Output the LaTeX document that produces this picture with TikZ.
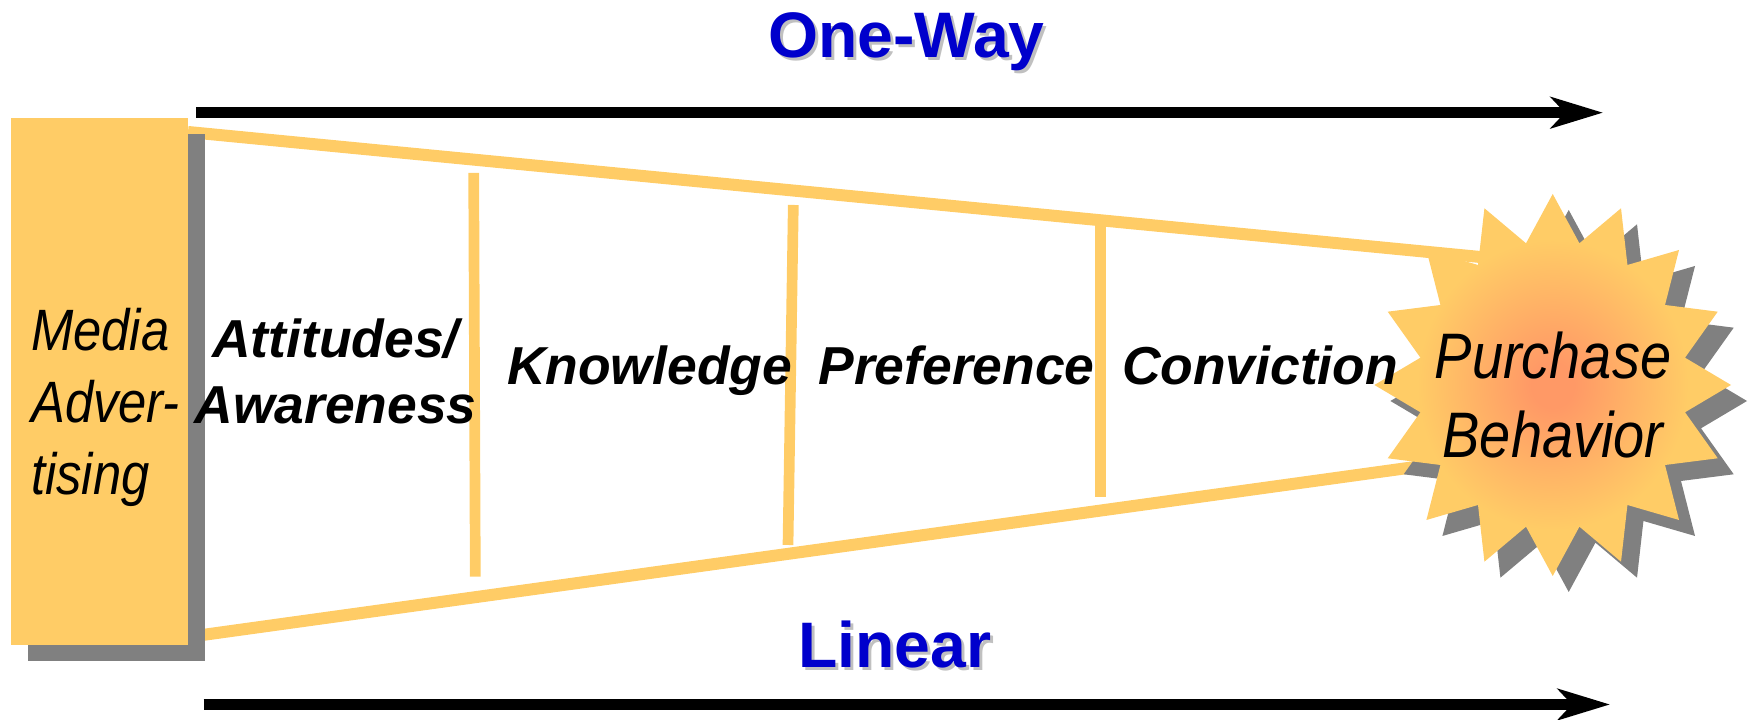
\documentclass[tikz,border=0pt]{standalone}
\usepackage{fontspec}
\usepackage{xcolor}
\usetikzlibrary{arrows.meta}
\setmainfont{Liberation Sans}
\newfontfamily\narrowfont[FakeStretch=0.87]{Liberation Sans}
\definecolor{mediaorange}{HTML}{FFCC66}
\definecolor{burstcore}{HTML}{FF9966}
\definecolor{dropgray}{HTML}{808080}
\definecolor{titleblue}{HTML}{0000CC}
\definecolor{titleshade}{HTML}{C0C0C0}
\pgfdeclareradialshading{burstglow}{\pgfpointorigin}{color(0bp)=(burstcore); color(3bp)=(burstcore); color(19bp)=(mediaorange); color(50bp)=(mediaorange)}
\newcommand{\burstpath}{(0,1.91) -- (.267,1.417) -- (.683,1.767) -- (.747,1.2) -- (1.263,1.35) -- (1.123,.8) -- (1.65,.733) -- (1.323,.273) -- (1.783,0) -- (1.323,-.273) -- (1.65,-.733) -- (1.123,-.8) -- (1.263,-1.35) -- (.747,-1.2) -- (.683,-1.767) -- (.267,-1.417) -- (0,-1.91) -- (-.267,-1.417) -- (-.683,-1.767) -- (-.747,-1.2) -- (-1.263,-1.35) -- (-1.123,-.8) -- (-1.65,-.733) -- (-1.323,-.273) -- (-1.783,0) -- (-1.323,.273) -- (-1.65,.733) -- (-1.123,.8) -- (-1.263,1.35) -- (-.747,1.2) -- (-.683,1.767) -- (-.267,1.417) -- cycle}

\begin{document}
\begin{tikzpicture}[
    mediabox/.style={rectangle, inner sep=0pt, minimum width=1.77cm, minimum height=5.27cm},
    stage/.style={inner sep=0pt, align=center, font=\fontsize{15.2}{18.8}\selectfont\bfseries\itshape},
    plain/.style={inner sep=0pt, font=\narrowfont\itshape},
    title/.style={inner sep=0pt, anchor=base, font=\fontsize{18.3}{22}\selectfont\bfseries},
    rail/.style={draw=mediaorange, line width=1.07mm},
    wedge/.style={draw=mediaorange, line width=1.2mm},
    arrow/.style={-{Stealth[length=5.2mm, width=3.1mm, inset=1.4mm]}, line width=1.07mm}
]
\useasboundingbox (0,0) rectangle (17.53,7.2);

% Arrow ends and rail ends
\coordinate (topstart) at (1.96,6.073);
\coordinate (topend) at (16.03,6.073);
\coordinate (lowstart) at (2.035,.155);
\coordinate (lowend) at (16.1,.155);
\coordinate (wedgetop) at (1.88,5.88);
\coordinate (wedgelow) at (1.88,.83);
\coordinate (burstupper) at (14.8,4.63);
\coordinate (burstlower) at (14.8,2.62);

% Rails
\draw[wedge] (wedgetop) -- (burstupper);
\draw[wedge] (wedgelow) -- (burstlower);
\draw[rail] (4.737,5.47) coordinate (railAtop) -- (4.753,1.433) coordinate (railAlow);
\draw[rail] (7.933,5.15) coordinate (railBtop) -- (7.88,1.75) coordinate (railBlow);
\draw[rail] (11.007,5.0) coordinate (railCtop) -- (11.007,2.233) coordinate (railClow);

% Media box
\node[mediabox, fill=dropgray] (mediashadow) at (1.16,3.22) {};
\node[mediabox, fill=mediaorange] (media) at (0.995,3.385) {};
\node[plain, align=left, anchor=west, font=\narrowfont\itshape\fontsize{16.6}{20.5}\selectfont] (medialabel) at (.305,3.125) {Media\\Adver-\\tising};

% Purchase burst
\fill[dropgray, shift={(15.687,3.19)}] \burstpath;
\path[shading=burstglow, shift={(15.527,3.35)}] \burstpath;
\node[plain, align=center, font=\narrowfont\itshape\fontsize{18.3}{22.5}\selectfont] (burst) at (15.53,3.25) {Purchase\\Behavior};

% Stages
\node[stage] (attitudes) at (3.355,3.49) {Attitudes/\hspace{1.1mm}\\Awareness};
\node[stage, anchor=base] (knowledge) at (6.495,3.35) {Knowledge};
\node[stage, anchor=base] (preference) at (9.565,3.35) {Preference};
\node[stage, anchor=base] (conviction) at (12.6,3.35) {Conviction};

% Titles and arrows
\node[title, titleshade] (onewayshade) at (9.095,6.59) {One-Way};
\node[title, titleblue] (oneway) at (9.065,6.62) {One-Way};
\node[title, titleshade] (linearshade) at (8.975,.49) {Linear};
\node[title, titleblue] (linear) at (8.945,.52) {Linear};
\draw[arrow] (topstart) -- (topend);
\draw[arrow] (lowstart) -- (lowend);

\end{tikzpicture}
\end{document}
